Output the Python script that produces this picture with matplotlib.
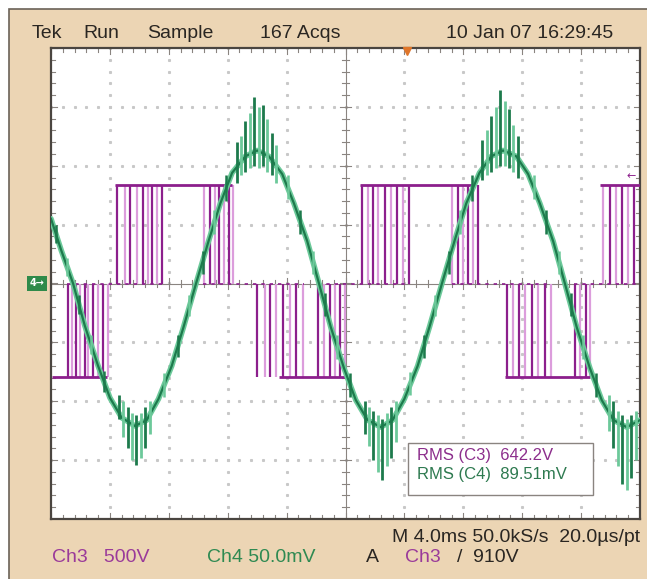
import matplotlib.pyplot as plt
import numpy as np
from matplotlib.patches import Rectangle

# scope settings
ms_per_div = 4.0
ch3_v_per_div = 500.0
ch4_mv_per_div = 50.0

# Ch4 (green) base trace: time (ms), value (mV)
green_t = [0.0, 0.7, 1.5, 2.3, 3.2, 4.0, 4.8, 5.7, 6.5, 7.3, 8.2, 9.0, 9.85,
           10.7, 11.5, 12.3, 13.2, 14.0, 14.8, 15.7, 16.5, 17.4, 18.2, 19.0,
           19.9, 20.7, 21.5, 22.4, 23.2, 24.0, 24.9, 25.7, 26.55, 27.4, 28.2,
           29.1, 29.9, 30.7, 31.6, 32.4, 33.2, 34.1, 34.9, 35.7, 36.6, 37.4,
           38.2, 39.1, 40.0]
green_mv = [55, 28, 0, -36, -70, -97, -114, -121, -116, -98, -70, -37, 0,
            36, 68, 94, 108, 113, 108, 93, 68, 36, 0, -37,
            -72, -99, -116, -122, -116, -98, -70, -37, 0, 36, 68,
            94, 108, 113, 108, 93, 68, 36, 0, -37, -72, -99,
            -116, -122, -116]

# Ch4 ripple bursts near the peaks: time (ms), low (mV), high (mV)
ripple_t = [4.6, 4.9, 5.2, 5.5, 5.8, 6.1, 6.4, 6.7,
            12.6, 12.9, 13.2, 13.5, 13.8, 14.1, 14.4, 14.7, 15.0, 15.3,
            21.3, 21.6, 21.9, 22.2, 22.5, 22.8, 23.1, 23.4,
            29.3, 29.6, 29.9, 30.2, 30.5, 30.8, 31.1, 31.4, 31.7,
            37.9, 38.2, 38.5, 38.8, 39.1, 39.4, 39.7]
ripple_lo = [-115, -130, -140, -150, -154, -148, -140, -128,
             85, 92, 95, 98, 100, 98, 100, 95, 92, 85,
             -128, -138, -150, -160, -167, -155, -148, -135,
             88, 92, 95, 98, 100, 100, 98, 95, 90,
             -125, -140, -155, -170, -175, -165, -150]
ripple_hi = [-95, -100, -105, -110, -112, -110, -105, -100,
             120, 125, 138, 145, 158, 150, 152, 140, 128, 118,
             -100, -105, -108, -112, -115, -110, -105, -100,
             122, 130, 142, 150, 164, 155, 148, 135, 125,
             -95, -100, -108, -112, -115, -112, -108]

# Ch4 smaller ripple along the slopes
slope_t = [0.35, 1.1, 1.9, 2.7, 3.6,
           7.7, 8.6, 9.4, 10.3, 11.1, 11.9,
           16.1, 16.9, 17.8, 18.6, 19.4, 20.3,
           24.4, 25.3, 26.1, 27.0, 27.8, 28.6,
           32.8, 33.6, 34.5, 35.3, 36.1, 37.0]
slope_lo = [34, 6, -26, -60, -92,
            -96, -62, -28, 8, 42, 70,
            72, 42, 8, -28, -64, -96,
            -95, -63, -28, 8, 42, 70,
            72, 42, 8, -28, -64, -96]
slope_hi = [50, 22, -10, -44, -74,
            -76, -44, -10, 28, 62, 92,
            92, 62, 28, -8, -44, -76,
            -75, -44, -10, 28, 62, 92,
            92, 62, 28, -8, -44, -76]

# Ch3 (purple) PWM voltage levels (V)
ch3_high = 835
ch3_low = -795
# full bars at each level: (start ms, end ms)
high_bars = [(4.35, 12.3), (21.0, 28.8), (37.3, 40.0)]
low_bars = [(0.07, 3.8), (15.5, 20.0), (30.8, 36.6)]
zero_spans = [(1.1, 7.6), (10.3, 17.2), (18.1, 24.4), (27.2, 34.0), (35.5, 40.0)]
# switching edges (ms) going to the high level
high_edges = [4.48, 5.02, 5.36, 5.84, 6.25, 6.59, 6.86, 7.20, 7.54,
              10.39, 10.80, 11.14, 11.41, 11.75, 12.09, 12.36,
              21.12, 21.52, 21.86, 22.20, 22.68, 23.09, 23.49, 23.90, 24.31,
              27.23, 27.64, 27.97, 28.31, 28.65, 28.99,
              37.48, 37.96, 38.36, 38.77, 39.18, 39.59]
# switching edges (ms) going to the low level
low_edges = [1.15, 1.43, 1.70, 1.97, 2.31, 2.51, 2.85, 3.19, 3.53, 3.87,
             13.99, 14.53, 14.87, 15.28, 15.75, 16.23, 16.64, 17.11,
             18.13, 18.54, 18.94, 19.28, 19.62, 19.96,
             30.96, 31.37, 31.78, 32.18, 32.66, 33.07, 33.54, 33.95,
             35.58, 35.92, 36.33, 36.60]

tan = '#ecd5b4'
purple = '#8c1f8c'
pink = '#dc9ddc'
dgreen = '#1d7a4c'
lgreen = '#6cc99a'
font = ['Liberation Sans', 'DejaVu Sans']

fig = plt.figure(figsize=(6.47, 5.79), dpi=100)
fig.patch.set_facecolor('white')
fig.add_artist(Rectangle((9 / 647, -0.01), 1, 1.01 - 9 / 579, transform=fig.transFigure,
                         facecolor=tan, edgecolor='#6b6258', linewidth=1.2, zorder=-5))

ax = fig.add_axes([51 / 647, 1 - 519 / 579, 589 / 647, 471 / 579])
ax.set_xlim(0, 10)
ax.set_ylim(-4, 4)
ax.set_facecolor('white')
ax.set_xticks([])
ax.set_yticks([])
for s in ax.spines.values():
    s.set_color('#4a4540')
    s.set_linewidth(1.6)

# graticule dots
gx = np.arange(0, 10.01, 0.2)
gy = np.arange(-4, 4.01, 0.2)
for x in range(1, 10):
    if x != 5:
        ax.plot([x] * len(gy), gy, ls='none', marker='s', ms=1.2, color='#c8c8c8', zorder=1)
for y in range(-3, 4):
    if y != 0:
        ax.plot(gx, [y] * len(gx), ls='none', marker='s', ms=1.2, color='#c8c8c8', zorder=1)

# center cross and edge ticks
ax.axhline(0, color='#8a8480', lw=0.8, zorder=1)
ax.axvline(5, color='#8a8480', lw=0.8, zorder=1)
for x in gx:
    big = 0.1 if abs(x - round(x)) < 1e-6 else 0.06
    ax.plot([x, x], [-big, big], color='#8a8480', lw=0.8, zorder=1)
    ax.plot([x, x], [4, 4 - big], color='#8a8480', lw=0.8, zorder=1)
    ax.plot([x, x], [-4, -4 + big], color='#8a8480', lw=0.8, zorder=1)
for y in gy:
    big = 0.1 if abs(y - round(y)) < 1e-6 else 0.06
    ax.plot([5 - big, 5 + big], [y, y], color='#8a8480', lw=0.8, zorder=1)
    ax.plot([0, big], [y, y], color='#8a8480', lw=0.8, zorder=1)
    ax.plot([10, 10 - big], [y, y], color='#8a8480', lw=0.8, zorder=1)

# Ch3 purple
hi = ch3_high / ch3_v_per_div
lo = ch3_low / ch3_v_per_div
for i, t in enumerate(high_edges):
    c = purple if i % 2 == 0 else pink
    ax.vlines(t / ms_per_div, 0, hi, color=c, lw=1.6, zorder=3)
for i, t in enumerate(low_edges):
    c = purple if i % 2 == 0 else pink
    ax.vlines(t / ms_per_div, lo, 0, color=c, lw=1.6, zorder=3)
for a, b in high_bars:
    ax.hlines(hi, a / ms_per_div, b / ms_per_div, color=purple, lw=2, zorder=3)
for a, b in low_bars:
    ax.hlines(lo, a / ms_per_div, b / ms_per_div, color=purple, lw=2, zorder=3)
for a, b in zero_spans:
    ax.hlines(0, a / ms_per_div, b / ms_per_div, color=purple, lw=1.2, ls=(0, (2, 3)), zorder=3)

# Ch4 green
gt = np.array(green_t) / ms_per_div
gv = np.array(green_mv) / ch4_mv_per_div
ax.plot(gt, gv, color=lgreen, lw=4, zorder=4, solid_capstyle='round')
ax.plot(gt, gv, color=dgreen, lw=1.6, zorder=5)
st = np.array(slope_t) / ms_per_div
for i in range(len(st)):
    c = dgreen if i % 2 == 0 else lgreen
    ax.vlines(st[i], slope_lo[i] / ch4_mv_per_div, slope_hi[i] / ch4_mv_per_div,
              color=c, lw=1.8, zorder=5)
rt = np.array(ripple_t) / ms_per_div
for i in range(len(rt)):
    c = dgreen if i % 2 == 0 else lgreen
    ax.vlines(rt[i], ripple_lo[i] / ch4_mv_per_div, ripple_hi[i] / ch4_mv_per_div,
              color=c, lw=2, zorder=5)

# RMS readout box (pixel geometry converted to divisions)
def px(x, y):
    return (x - 51) / 58.9, (283.5 - y) / 58.9

bx, by = px(408, 495)
ax.add_patch(Rectangle((bx, by), 185 / 58.9, 52 / 58.9,
                       facecolor='white', edgecolor='#8a8480', lw=1, zorder=6))
ax.text(*px(417, 456), 'RMS (C3)  642.2V', color='#8c2e8c',
        fontsize=12, family=font, va='center', zorder=7)
ax.text(*px(417, 475), 'RMS (C4)  89.51mV', color='#2e7a50',
        fontsize=12, family=font, va='center', zorder=7)

# header
hdr = dict(fontsize=14, family=font, color='#2a2622', va='center')
hy = 1 - 33 / 579
fig.text(32 / 647, hy, 'Tek', **hdr)
fig.text(83 / 647, hy, 'Run', **hdr)
fig.text(147 / 647, hy, 'Sample', **hdr)
fig.text(260 / 647, hy, '167 Acqs', **hdr)
fig.text(613 / 647, hy, '10 Jan 07 16:29:45', ha='right', **hdr)

# footer
y1 = 1 - 537 / 579
y2 = 1 - 558 / 579
fig.text(52 / 647, y2, 'Ch3   500V', fontsize=14, family=font, color='#9a3a9a', va='center')
fig.text(207 / 647, y2, 'Ch4 50.0mV', fontsize=14, family=font, color='#2f8a52', va='center')
fig.text(640 / 647, y1, 'M 4.0ms 50.0kS/s  20.0\u00b5s/pt', ha='right', **hdr)
fig.text(366 / 647, y2, 'A', **hdr)
fig.text(405 / 647, y2, 'Ch3', fontsize=14, family=font, color='#9a3a9a', va='center')
fig.text(457 / 647, y2, '/  910V', **hdr)

# channel ground marker and trigger markers
fig.text(37 / 647, 1 - 283.5 / 579, '4\u2192', fontsize=7, color='white', weight='bold',
         ha='center', va='center',
         bbox=dict(boxstyle='square,pad=0.25', facecolor='#2f8a4a', edgecolor='none'))
ax.plot([356 / 58.9], [4 - 0.05], marker='v', ms=6, color='#e0762a', clip_on=False, zorder=8)
ax.text(9.85, 1.82, '\u2190', color=purple, fontsize=8, ha='center', va='center', zorder=8)

plt.savefig('out.png', dpi=100)
